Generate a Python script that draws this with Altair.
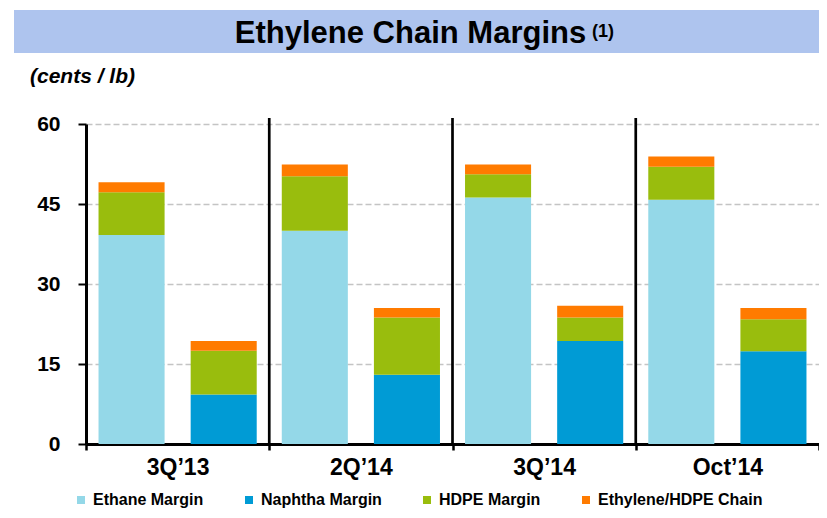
import altair as alt
import pandas as pd

# ---- data (cents / lb) ----
groups = ["3Q’13", "2Q’14", "3Q’14", "Oct’14"]
ethane_margin = [39.2, 40.0, 46.2, 45.8]
hdpe_on_ethane = [8.0, 10.2, 4.4, 6.2]
chain_on_ethane = [1.9, 2.2, 1.8, 1.9]
naphtha_margin = [9.3, 13.0, 19.3, 17.4]
hdpe_on_naphtha = [8.2, 10.7, 4.4, 6.0]
chain_on_naphtha = [1.8, 1.8, 2.2, 2.1]

series = ["Ethane Margin", "Naphtha Margin", "HDPE Margin", "Ethylene/HDPE Chain"]
colors = ["#94d8e8", "#009bd5", "#99bd0d", "#ff7b00"]
bar_types = ["Ethane", "Naphtha"]
y_ticks = [0, 15, 30, 45, 60]
separators = groups[1:]

rows = []
for i, g in enumerate(groups):
    stacks = {
        "Ethane": [("Ethane Margin", ethane_margin[i]),
                   ("HDPE Margin", hdpe_on_ethane[i]),
                   ("Ethylene/HDPE Chain", chain_on_ethane[i])],
        "Naphtha": [("Naphtha Margin", naphtha_margin[i]),
                    ("HDPE Margin", hdpe_on_naphtha[i]),
                    ("Ethylene/HDPE Chain", chain_on_naphtha[i])],
    }
    for bt, parts in stacks.items():
        for k, (s, v) in enumerate(parts):
            rows.append({"group": g, "bar": bt, "series": s, "value": v, "order": k})
df = pd.DataFrame(rows)

FONT = "Arial, Liberation Sans, sans-serif"
W, H = 733, 320

x_scale = alt.Scale(domain=groups, paddingInner=0, paddingOuter=0)
x_axis = alt.Axis(
    title=None, labelAngle=0, grid=False, tickBand="extent",
    ticks=True, tickSize=6, tickWidth=2.5, tickColor="black",
    domainColor="black", domainWidth=3,
    labelFont=FONT, labelFontSize=23, labelFontWeight="bold",
    labelColor="black", labelPadding=6,
)
y_scale = alt.Scale(domain=[0, 60], nice=False)
y_axis = alt.Axis(
    title=None, values=y_ticks, grid=True, gridColor="#c4c4c4",
    gridDash=[6, 3], gridWidth=1.5,
    domainColor="black", domainWidth=3,
    ticks=True, tickSize=8, tickWidth=2, tickColor="black",
    labelFont=FONT, labelFontSize=21, labelFontWeight="bold",
    labelColor="black", labelPadding=18,
)

bars = alt.Chart(df).mark_bar().encode(
    x=alt.X("group:N", scale=x_scale, axis=x_axis),
    xOffset=alt.XOffset("bar:N", scale=alt.Scale(domain=bar_types, paddingInner=0.283, paddingOuter=0.136)),
    y=alt.Y("value:Q", stack="zero", scale=y_scale, axis=y_axis),
    color=alt.Color(
        "series:N",
        scale=alt.Scale(domain=series, range=colors),
        legend=alt.Legend(
            title=None, orient="none", legendX=-13, legendY=368,
            direction="horizontal", symbolType="square", symbolSize=64,
            symbolStrokeWidth=0, labelFont=FONT, labelFontSize=16,
            labelFontWeight="bold", labelColor="black", columnPadding=37,
            labelOffset=4, padding=0, labelLimit=400,
        ),
    ),
    order=alt.Order("order:Q", sort="ascending"),
)

seps = alt.Chart(pd.DataFrame({"group": separators})).mark_rule(
    color="black", strokeWidth=2.7
).encode(
    x=alt.X("group:N", bandPosition=0, scale=x_scale, axis=x_axis),
    y=alt.datum(0),
    y2=alt.value(-6),
)

banner = alt.Chart(pd.DataFrame({"a": [0]})).mark_rect(color="#aec4ee").encode(
    x=alt.value(-72), x2=alt.value(733), y=alt.value(-114), y2=alt.value(-71)
)

title = alt.Chart(pd.DataFrame({"t": ["Ethylene Chain Margins"]})).mark_text(
    font=FONT, fontSize=31, fontWeight="bold", align="center",
    baseline="alphabetic", color="black"
).encode(text="t:N", x=alt.value(324.5), y=alt.value(-81))

sup = alt.Chart(pd.DataFrame({"t": ["(1)"]})).mark_text(
    font=FONT, fontSize=18, fontWeight="bold", align="left",
    baseline="alphabetic", color="black"
).encode(text="t:N", x=alt.value(506), y=alt.value(-87))

unit = alt.Chart(pd.DataFrame({"t": ["(cents / lb)"]})).mark_text(
    font=FONT, fontSize=21, fontWeight="bold", fontStyle="italic",
    align="left", baseline="alphabetic", color="black"
).encode(text="t:N", x=alt.value(-56), y=alt.value(-41))

chart = alt.layer(banner, title, sup, unit, bars, seps).properties(
    width=W, height=H,
    autosize=alt.AutoSizeParams(type="none"),
    padding={"left": 78, "top": 116, "right": 0, "bottom": 66},
    background="white",
).configure_view(stroke=None)

chart.save("out.html", embed_options={"renderer": "svg", "actions": False})
